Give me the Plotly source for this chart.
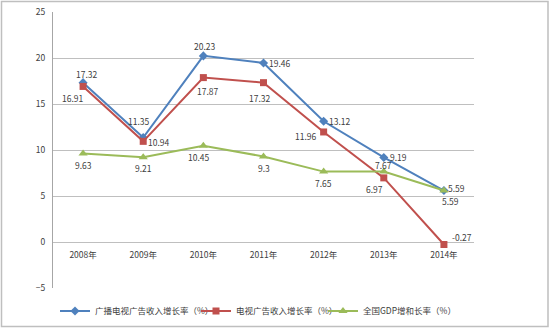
import plotly.graph_objects as go

years = ["2008年", "2009年", "2010年", "2011年", "2012年", "2013年", "2014年"]
broadcast_tv = [17.32, 11.35, 20.23, 19.46, 13.12, 9.19, 5.59]
tv = [16.91, 10.94, 17.87, 17.32, 11.96, 6.97, -0.27]
gdp = [9.63, 9.21, 10.45, 9.3, 7.65, 7.67, 5.59]

names = ["广播电视广告收入增长率（%）", "电视广告收入增长率（%）", "全国GDP增和长率（%）"]

# label offsets (px) relative to each point: (dx, dy up-positive)
off_blue = [(4, 9), (-4, 17), (2, 10), (16, 0), (16, 0), (15, 0), (13, 3)]
off_red = [(-10, -12), (16, -1), (5, -13), (-4, -15), (-18, -4), (-9, -11), (18, 7)]
off_green = [(0, -12), (0, -11), (-4, -11), (0, -12), (0, -11), (0, 6), (7, -10)]

FONT = "Noto Sans CJK SC, Noto Sans, sans-serif"
TXT = "#404040"

fig = go.Figure()
series = [
    (broadcast_tv, names[0], "#4F81BD", "diamond", 7, off_blue, "legend"),
    (tv, names[1], "#C0504D", "square", 7, off_red, "legend2"),
    (gdp, names[2], "#9BBB59", "triangle-up", 8, off_green, "legend3"),
]
annotations = []
for vals, name, color, sym, msize, offs, leg in series:
    fig.add_trace(go.Scatter(
        x=years, y=vals, name=name, mode="lines+markers",
        line=dict(color=color, width=2),
        marker=dict(symbol=sym, size=msize, color=color),
        legend=leg,
    ))
    for xv, yv, (dx, dy) in zip(years, vals, offs):
        annotations.append(dict(x=xv, y=yv, text=str(yv), showarrow=False,
                                xshift=dx, yshift=dy,
                                font=dict(size=8.5, color=TXT, family=FONT)))

W, H = 550, 328
L, R, T, B = 53, 76, 12, 40
pw, ph = W - L - R, H - T - B

def px_x(x):
    return (x - L) / pw

def px_y(y):
    return (H - B - y) / ph

leg_common = dict(orientation="h", font=dict(size=8.5, color=TXT, family=FONT),
                  itemwidth=30, yanchor="middle", xanchor="left", bgcolor="rgba(0,0,0,0)")

fig.update_layout(
    width=W, height=H,
    margin=dict(l=L, r=R, t=T, b=B, autoexpand=False),
    paper_bgcolor="white", plot_bgcolor="white",
    font=dict(family=FONT, size=8.5, color=TXT),
    showlegend=True,
    legend=dict(x=px_x(55), y=px_y(311), **leg_common),
    legend2=dict(x=px_x(196), y=px_y(311), **leg_common),
    legend3=dict(x=px_x(323), y=px_y(311), **leg_common),
    annotations=annotations,
    xaxis=dict(type="category", range=[-0.5, 6.5], anchor="free", position=5 / 30,
               showline=False, showgrid=False, ticks="", zeroline=False,
               ticklabelstandoff=6,
               tickfont=dict(size=8.5, color=TXT, family=FONT)),
    yaxis=dict(range=[-5, 25], dtick=5, showgrid=True, gridcolor="#BFBFBF", gridwidth=1,
               showline=True, linecolor="#A6A6A6", linewidth=1, zeroline=False,
               ticks="", ticklabelstandoff=5,
               tickfont=dict(size=8.5, color=TXT, family=FONT)),
    shapes=[dict(type="rect", xref="paper", yref="paper",
                 x0=px_x(1.5), x1=px_x(548), y0=px_y(326.5), y1=px_y(1.5),
                 line=dict(color="#BFBFBF", width=1.5), fillcolor="rgba(0,0,0,0)", layer="below")],
)

fig.write_html("out.html")
